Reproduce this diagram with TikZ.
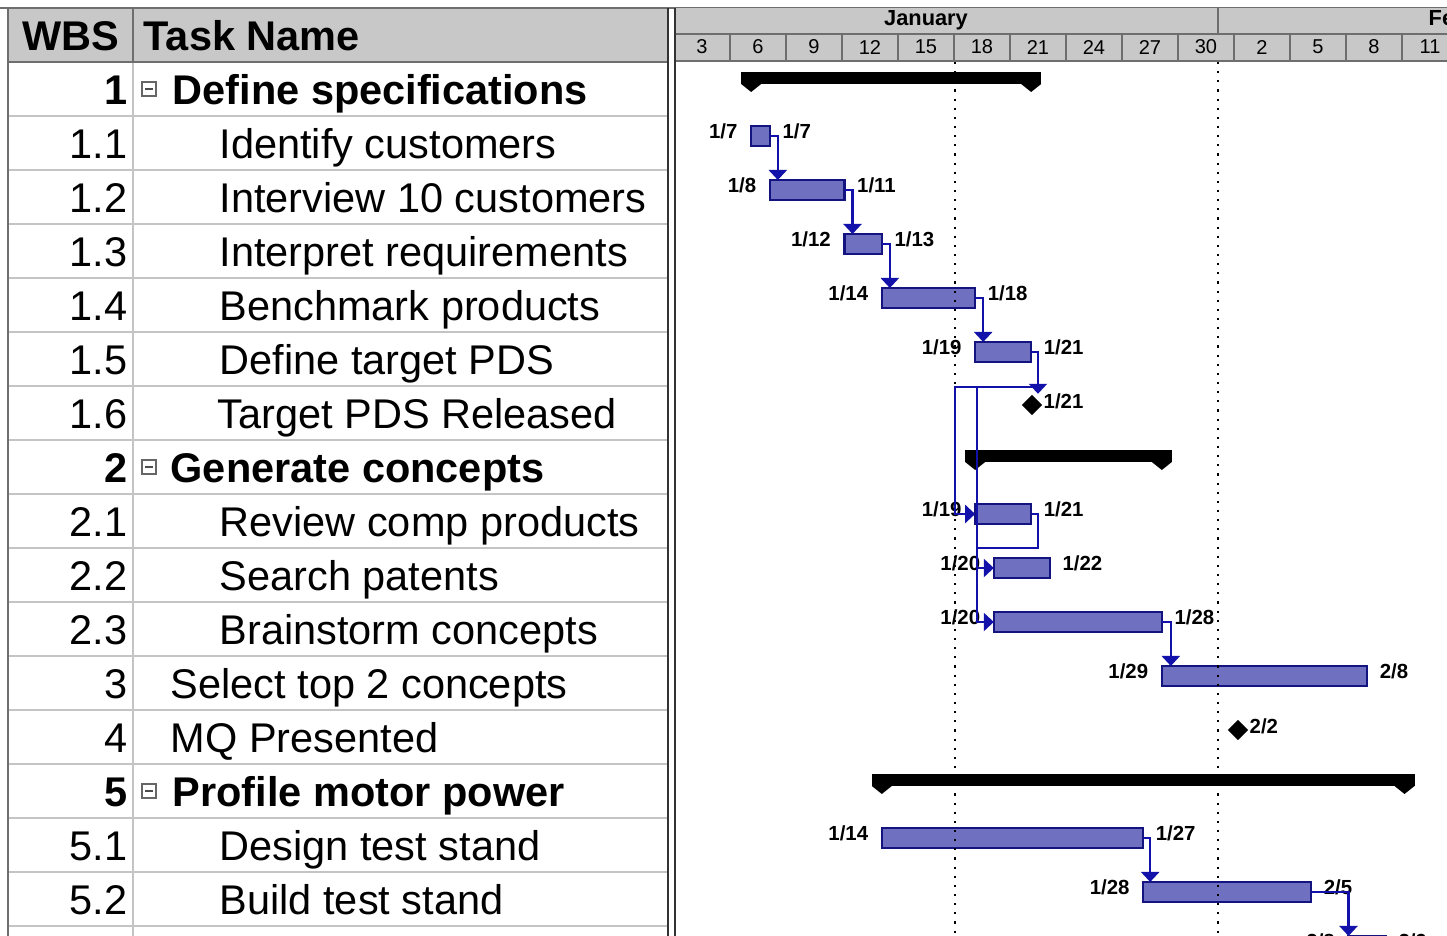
\documentclass[tikz,border=0pt]{standalone}
\usepackage{fontspec}
\setmainfont{Liberation Sans}
\usetikzlibrary{shapes.geometric,arrows.meta}

\definecolor{barfill}{RGB}{112,112,192}
\definecolor{barline}{RGB}{20,20,128}
\definecolor{linkcol}{RGB}{18,18,170}
\definecolor{headgray}{RGB}{200,200,200}
\definecolor{gridgray}{RGB}{196,196,196}
\definecolor{rulegray}{RGB}{110,110,110}

% summary bar: start x, end x, row centre
\newcommand{\sumbar}[3]{%
  \fill ({#1-10},{#3-17}) rectangle ({#2+10},{#3-5});
  \fill ({#1-10},{#3-5}) -- ({#1},{#3+3}) -- ({#1+10},{#3-5}) -- cycle;
  \fill ({#2-10},{#3-5}) -- ({#2},{#3+3}) -- ({#2+10},{#3-5}) -- cycle;
}

\begin{document}
\begin{tikzpicture}[x=0.01cm,y=-0.01cm,
    declare function={dayx(\d)=676.5+(\d-3)*18.667;},
    tabtext/.style={inner sep=0pt,font=\fontsize{11.8}{13}\selectfont},
    datelbl/.style={inner sep=0pt,font=\fontsize{5.8}{6}\selectfont\bfseries},
    daylbl/.style={inner sep=0pt,font=\fontsize{5.7}{6}\selectfont},
    taskbar/.style={rectangle,draw=barline,fill=barfill,line width=0.6pt,
                    minimum height=0.2cm,inner sep=0pt,outer sep=0pt},
    milestone/.style={diamond,fill=black,inner sep=0pt,minimum width=0.21cm,
                      minimum height=0.21cm},
    link/.style={draw=linkcol,line width=0.65pt,
                 -{Triangle[width=0.18cm,length=0.1cm]}},
    linkline/.style={draw=linkcol,line width=0.65pt},
    gridline/.style={draw=gridgray,line width=0.45pt},
    headline/.style={draw=rulegray,line width=0.5pt}]
  \useasboundingbox (0,0) rectangle (1447,936);
  \clip (0,0) rectangle (1447,936);
  \fill[white] (0,0) rectangle (1447,936);

  % --- table on the left
  \fill[headgray] (8,8) rectangle (668,62);
  \foreach \k in {1,...,16}
    \draw[gridline] (8,{62+54*\k}) -- (668,{62+54*\k});
  \draw[gridline] (133,62) -- (133,936);
  \draw[headline] (133,8) -- (133,62);
  \draw[headline] (0,8) -- (1447,8);
  \draw[headline] (8,62) -- (668,62);
  \draw[headline] (8,8) -- (8,936);
  \draw[draw=black!80,line width=0.6pt] (668,8) -- (668,936);
  \draw[draw=black!80,line width=0.45pt] (675,8) -- (675,936);

  \node[tabtext,font=\fontsize{11.8}{13}\selectfont\bfseries,anchor=base east] (hwbs) at (120,50) {WBS};
  \node[tabtext,font=\fontsize{11.8}{13}\selectfont\bfseries,anchor=base west] (hname) at (143,50) {Task Name};

  \foreach \k/\w/\n/\xn/\fnt in {
      0/1/Define specifications/172/\bfseries,
      1/1.1/Identify customers/219/\mdseries,
      2/1.2/Interview 10 customers/219/\mdseries,
      3/1.3/Interpret requirements/219/\mdseries,
      4/1.4/Benchmark products/219/\mdseries,
      5/1.5/Define target PDS/219/\mdseries,
      6/1.6/Target PDS Released/217/\mdseries,
      7/2/Generate concepts/170/\bfseries,
      8/2.1/Review comp products/219/\mdseries,
      9/2.2/Search patents/219/\mdseries,
      10/2.3/Brainstorm concepts/219/\mdseries,
      11/3/Select top 2 concepts/170/\mdseries,
      12/4/MQ Presented/170/\mdseries,
      13/5/Profile motor power/172/\bfseries,
      14/5.1/Design test stand/219/\mdseries,
      15/5.2/Build test stand/219/\mdseries}{
    \pgfmathsetmacro\yb{89+54*\k+15}
    \node[tabtext,anchor=base east] (w\k) at (128,\yb) {\fnt\w};
    \node[tabtext,anchor=base west] (n\k) at (\xn,\yb) {\fnt\n};
  }
  % collapse boxes of the summary rows
  \foreach \k in {0,7,13}{
    \pgfmathsetmacro\yc{89+54*\k}
    \draw[draw=black!60,line width=0.35pt,fill=white] (142,{\yc-7}) rectangle (156,{\yc+7});
    \draw[draw=black!70,line width=0.35pt] (145,\yc) -- (153,\yc);
  }

  % --- timescale
  \fill[headgray] (676,8) rectangle (1447,60);
  \draw[headline] (676,34) -- (1447,34);
  \draw[headline] (676,61) -- (1447,61);
  \draw[headline] (1218,8) -- (1218,34);
  \foreach \k in {0,...,12}
    \draw[headline] ({730+56*\k},34) -- ({730+56*\k},60);
  \node[datelbl,font=\fontsize{6.2}{7}\selectfont\bfseries] (jan) at (926,20) {January};
  \node[datelbl,font=\fontsize{6.2}{7}\selectfont\bfseries,anchor=west] (feb) at (1428,20) {February};
  \foreach \d [count=\c from 0] in {3,6,9,12,15,18,21,24,27,30,2,5,8,11}
    \node[daylbl] (d\c) at ({702+56*\c},47) {\d};

  % --- summary bars
  \sumbar{dayx(7)}{dayx(22)}{89}
  \sumbar{dayx(19)}{dayx(29)}{467}
  \sumbar{dayx(14)}{dayx(42)}{791}

  % --- task bars with start / finish dates
  \foreach \id/\k/\s/\e/\ll/\rl in {
      t11/1/7/8/{1/7}/{1/7},
      t12/2/8/12/{1/8}/{1/11},
      t13/3/12/14/{1/12}/{1/13},
      t14/4/14/19/{1/14}/{1/18},
      t15/5/19/22/{1/19}/{1/21},
      t21/8/19/22/{1/19}/{1/21},
      t22/9/20/23/{1/20}/{1/22},
      t23/10/20/29/{1/20}/{1/28},
      t3/11/29/40/{1/29}/{2/8},
      t51/14/14/28/{1/14}/{1/27},
      t52/15/28/37/{1/28}/{2/5},
      t53/16/39/41/{2/8}/{2/9}}{
    \pgfmathsetmacro\yc{89+54*\k-7}
    \pgfmathsetmacro\xa{dayx(\s)}
    \pgfmathsetmacro\xb{dayx(\e)}
    \pgfmathsetmacro\bw{(\xb-\xa)*0.01}
    \node[taskbar,minimum width=\bw cm] (\id) at ({(\xa+\xb)/2},\yc) {};
    \node[datelbl,anchor=base east] (\id-l) at ({\xa-13},{\yc+2}) {\ll};
    \node[datelbl,anchor=base west] (\id-r) at ({\xb+12},{\yc+2}) {\rl};
  }

  % --- milestones
  \node[milestone] (m16) at (1032,405) {};
  \node[datelbl,anchor=base west] (m16-r) at (1043,408) {1/21};
  \node[milestone] (m4) at (1238,730) {};
  \node[datelbl,anchor=base west] (m4-r) at (1249,733) {2/2};

  % --- status date and month lines
  \draw[dotted,line width=0.6pt] (955,62) -- (955,936);
  \draw[dotted,line width=0.6pt] (1218,62) -- (1218,936);

  % --- links
  \coordinate (j1) at (1038,387);
  \coordinate (j2) at (955,387);
  \coordinate (j3) at (977,387);
  \coordinate (j4) at (977,548);
  \draw[link] (t11.east) -| ([xshift=0.08cm]t12.north west);
  \draw[link] (t12.east) -| ([xshift=0.08cm]t13.north west);
  \draw[link] (t13.east) -| ([xshift=0.08cm]t14.north west);
  \draw[link] (t14.east) -| ([xshift=0.08cm]t15.north west);
  \draw[link] (t15.east) -| ([xshift=0.06cm]m16.north);
  \draw[link] (j1) -- (j2) |- (t21.west);
  \draw[linkline] (j3) -- (j4);
  \draw[linkline] (t21.east) -- ++(7,0) |- (j4);
  \draw[link] (j4) |- (t22.west);
  \draw[link] (j4) |- (t23.west);
  \draw[link] (t23.east) -| ([xshift=0.09cm]t3.north west);
  \draw[link] (t51.east) -| ([xshift=0.07cm]t52.north west);
  \draw[link] (t52.east) -| (t53.north west);
\end{tikzpicture}
\end{document}
